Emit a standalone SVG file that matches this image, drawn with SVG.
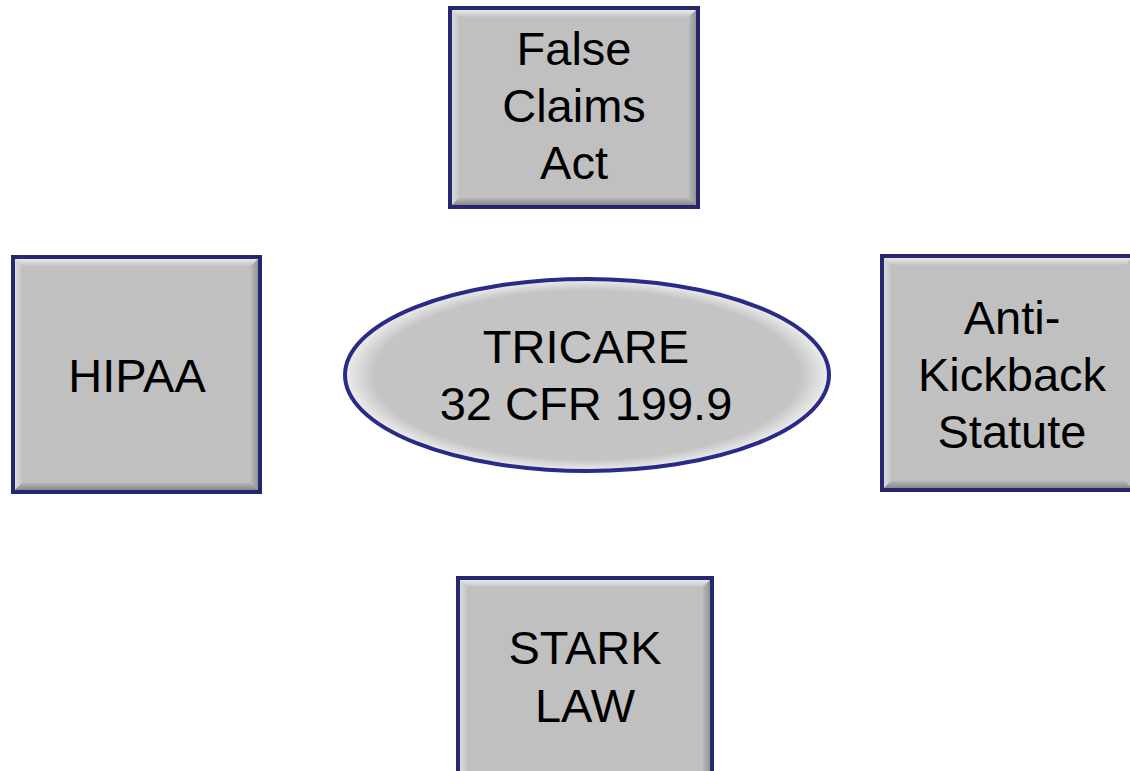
<svg xmlns="http://www.w3.org/2000/svg" width="1130" height="771" viewBox="0 0 1130 771">
  <defs>
    <linearGradient id="gTop" x1="0" y1="0" x2="0" y2="1">
      <stop offset="0" stop-color="#f4f4f4"/>
      <stop offset="1" stop-color="#c4c4c4"/>
    </linearGradient>
    <linearGradient id="gBot" x1="0" y1="0" x2="0" y2="1">
      <stop offset="0" stop-color="#b8b8b8"/>
      <stop offset="1" stop-color="#7a7a7a"/>
    </linearGradient>
    <linearGradient id="gLeft" x1="0" y1="0" x2="1" y2="0">
      <stop offset="0" stop-color="#e2e2e2"/>
      <stop offset="1" stop-color="#c4c4c4"/>
    </linearGradient>
    <linearGradient id="gRight" x1="0" y1="0" x2="1" y2="0">
      <stop offset="0" stop-color="#b8b8b8"/>
      <stop offset="1" stop-color="#8a8a8a"/>
    </linearGradient>
    <radialGradient id="gEll" cx="0.5" cy="0.5" r="0.5">
      <stop offset="0" stop-color="#c4c4c4"/>
      <stop offset="0.88" stop-color="#c4c4c4"/>
      <stop offset="1" stop-color="#eeeeee"/>
    </radialGradient>
  </defs>
  <style>
    .face { fill: #c0c0c0; }
    .frame { fill: none; stroke: #27276f; stroke-width: 4; }
    .lbl { font-family: "Liberation Sans", Arial, sans-serif; font-size: 47px; fill: #000; text-anchor: middle; }
    .ell { fill: url(#gEll); stroke: #2a2a88; stroke-width: 4; }
  </style>

  <g id="connectors"></g>

  <g id="false-claims-act">
    <rect class="face" x="450" y="8" width="248" height="199"/>
    <polygon fill="url(#gTop)" points="450,8 698,8 689,17 459,17"/>
    <polygon fill="url(#gLeft)" points="450,8 459,17 459,198 450,207"/>
    <polygon fill="url(#gRight)" points="698,8 698,207 689,198 689,17"/>
    <polygon fill="url(#gBot)" points="450,207 459,198 689,198 698,207"/>
    <rect class="frame" x="450" y="8" width="248" height="199"/>
    <text class="lbl" x="574" y="65">False</text>
    <text class="lbl" x="574" y="122">Claims</text>
    <text class="lbl" x="574" y="179">Act</text>
  </g>

  <g id="hipaa">
    <rect class="face" x="13" y="257" width="247" height="235"/>
    <polygon fill="url(#gTop)" points="13,257 260,257 251,266 22,266"/>
    <polygon fill="url(#gLeft)" points="13,257 22,266 22,483 13,492"/>
    <polygon fill="url(#gRight)" points="260,257 260,492 251,483 251,266"/>
    <polygon fill="url(#gBot)" points="13,492 22,483 251,483 260,492"/>
    <rect class="frame" x="13" y="257" width="247" height="235"/>
    <text class="lbl" x="137" y="392">HIPAA</text>
  </g>

  <g id="anti-kickback-statute">
    <rect class="face" x="882" y="256" width="252" height="234"/>
    <polygon fill="url(#gTop)" points="882,256 1134,256 1125,265 891,265"/>
    <polygon fill="url(#gLeft)" points="882,256 891,265 891,481 882,490"/>
    <polygon fill="url(#gBot)" points="882,490 891,481 1125,481 1134,490"/>
    <rect class="frame" x="882" y="256" width="252" height="234"/>
    <text class="lbl" x="1012" y="334">Anti-</text>
    <text class="lbl" x="1012" y="391">Kickback</text>
    <text class="lbl" x="1012" y="448">Statute</text>
  </g>

  <g id="stark-law">
    <rect class="face" x="458" y="578" width="254" height="215"/>
    <polygon fill="url(#gTop)" points="458,578 712,578 703,587 467,587"/>
    <polygon fill="url(#gLeft)" points="458,578 467,587 467,793 458,793"/>
    <polygon fill="url(#gRight)" points="712,578 712,793 703,793 703,587"/>
    <rect class="frame" x="458" y="578" width="254" height="215"/>
    <text class="lbl" x="585" y="664">STARK</text>
    <text class="lbl" x="585" y="722">LAW</text>
  </g>

  <g id="tricare">
    <ellipse class="ell" cx="587" cy="375" rx="242" ry="96"/>
    <text class="lbl" x="586" y="363">TRICARE</text>
    <text class="lbl" x="586" y="420">32 CFR 199.9</text>
  </g>
</svg>
